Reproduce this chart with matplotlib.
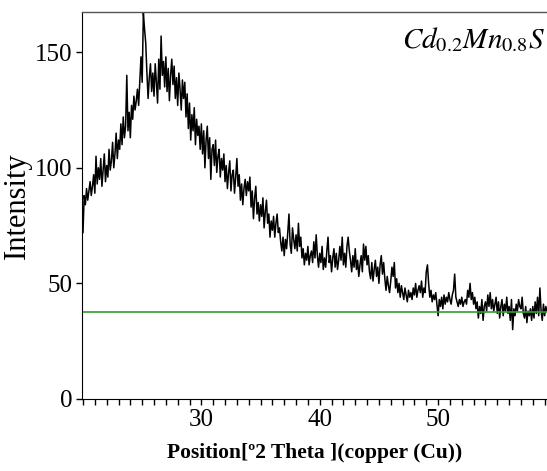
import numpy as np
import matplotlib
matplotlib.use("Agg")
import matplotlib.pyplot as plt
from matplotlib.ticker import MultipleLocator

## XRD PATTERN: Cd0.2Mn0.8S (0.1 deg steps from 20.0)
two_theta_start = 20.0
two_theta_step = 0.1
intensity = [
    72, 88, 84, 91, 86, 90, 94, 88, 92, 97,        # 20
    89, 105, 93, 100, 95, 104, 92, 99, 106, 94,    # 21
    101, 96, 108, 99, 103, 111, 100, 106, 115, 104,  # 22
    112, 108, 119, 110, 122, 113, 118, 140, 116, 124,  # 23
    113, 127, 121, 131, 125, 129, 134, 127, 138, 148,  # 24
    137, 167, 160, 154, 141, 130, 139, 145, 133, 141,  # 25
    131, 145, 137, 128, 147, 134, 157, 140, 146, 135,  # 26
    148, 133, 143, 129, 140, 147, 136, 144, 130, 139,  # 27
    127, 141, 134, 125, 138, 130, 137, 122, 132, 117,  # 28
    128, 112, 123, 116, 126, 110, 121, 114, 118, 108,  # 29
    119, 106, 116, 100, 112, 118, 104, 113, 95, 108,   # 30
    110, 101, 112, 98, 105, 108, 96, 104, 99, 106,     # 31
    94, 101, 91, 98, 103, 90, 97, 99, 89, 96,          # 32
    104, 92, 97, 86, 93, 84, 91, 95, 88, 94,           # 33
    90, 96, 83, 90, 78, 87, 92, 80, 85, 77,            # 34
    84, 79, 87, 74, 81, 86, 76, 80, 70, 77,            # 35
    73, 79, 70, 76, 80, 72, 74, 68, 64, 70,            # 36
    62, 69, 65, 72, 80, 67, 63, 74, 69, 65,            # 37
    71, 64, 76, 66, 70, 61, 65, 58, 63, 60,            # 38
    66, 58, 62, 64, 59, 68, 61, 71, 62, 57,            # 39
    63, 59, 66, 56, 61, 57, 64, 70, 59, 62,            # 40
    55, 61, 65, 57, 63, 56, 60, 66, 60, 70,            # 41
    58, 63, 57, 66, 70, 64, 60, 55, 62, 57,            # 42
    65, 56, 60, 53, 58, 62, 55, 67, 60, 66,            # 43
    58, 62, 55, 52, 59, 51, 56, 60, 53, 57,            # 44
    50, 58, 62, 54, 59, 52, 47, 53, 49, 46,            # 45
    51, 57, 53, 59, 48, 52, 46, 50, 44, 49,            # 46
    46, 43, 48, 45, 42, 47, 44, 46, 43, 48,            # 47
    45, 50, 44, 47, 49, 46, 51, 44, 48, 46,            # 48
    55, 58, 50, 44, 47, 42, 45, 43, 46, 41,            # 49
    36, 43, 40, 44, 39, 45, 41, 44, 42, 46,            # 50
    43, 41, 45, 47, 54, 44, 42, 40, 43, 41,            # 51
    44, 40, 42, 43, 41, 47, 44, 50, 43, 46,            # 52
    41, 44, 39, 42, 35, 40, 37, 43, 34, 40,            # 53
    42, 38, 45, 40, 46, 39, 43, 38, 41, 44,            # 54
    37, 42, 35, 40, 43, 36, 41, 38, 44, 37,            # 55
    40, 34, 43, 30, 39, 36, 41, 38, 43, 40,            # 56
    39, 44, 37, 35, 40, 33, 38, 36, 39, 34,            # 57
    40, 35, 42, 37, 44, 36, 48, 38, 34, 41,            # 58
    36, 40, 38,                                        # 59
]
two_theta = two_theta_start + two_theta_step * np.arange(len(intensity))
baseline = 37.5

y_ticks = [0, 50, 100, 150]
x_ticks = [30, 40, 50]

plt.rcParams['font.family'] = ['Liberation Serif', 'DejaVu Serif']
plt.rcParams['mathtext.fontset'] = 'stix'

fig = plt.figure(figsize=(5.47, 4.71), dpi=100)
ax = fig.add_axes([0.150, 0.153, 0.850, 0.822])

ax.plot(two_theta, intensity, color='black', lw=1.1)
ax.axhline(baseline, color='#2ca02c', lw=1.2)

ax.set_xlim(19.92, 59.2)
ax.set_ylim(0, 167.5)
ax.set_xticks(x_ticks)
ax.set_yticks(y_ticks)
ax.xaxis.set_minor_locator(MultipleLocator(1))
ax.tick_params(axis='both', which='major', direction='out', length=4, width=1,
               labelsize=18, pad=3)
ax.tick_params(axis='x', which='minor', direction='out', length=4, width=1)

ax.spines['right'].set_visible(False)
ax.spines['top'].set_color('#555555')
ax.spines['top'].set_linewidth(1.0)

ax.set_xlabel('Position[º2 Theta ](copper (Cu))', fontsize=15.5, fontweight='bold', labelpad=9)
ax.set_ylabel('Intensity', fontsize=22, labelpad=2)

ax.text(0.997, 0.905, r'$Cd_{0.2}Mn_{0.8}S$', transform=ax.transAxes,
        ha='right', va='baseline', fontsize=21)

fig.savefig('out.png', dpi=100)
